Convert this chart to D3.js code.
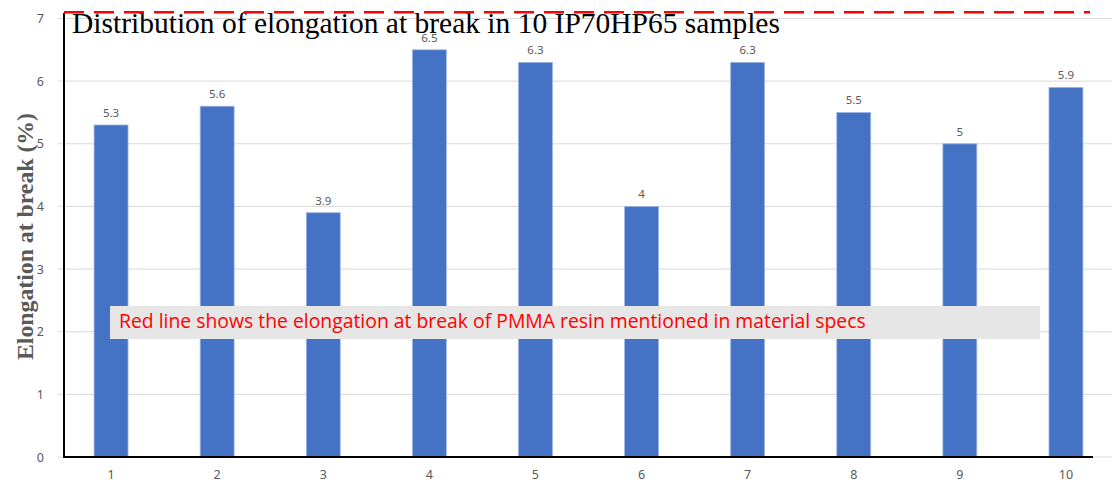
<!DOCTYPE html>
<html><head><meta charset="utf-8">
<script src="https://cdn.jsdelivr.net/npm/d3@7"></script>
<style>html,body{margin:0;padding:0;background:#fff;}svg{display:block;}</style>
</head><body>
<svg id="c" width="1112" height="482"></svg>
<script>
const categories = ["1","2","3","4","5","6","7","8","9","10"];
const values = [5.3, 5.6, 3.9, 6.5, 6.3, 4, 6.3, 5.5, 5, 5.9];
const yTicks = [0,1,2,3,4,5,6,7];
const specValue = 7.1;
const titleText = "Distribution of elongation at break in 10 IP70HP65 samples";
const yLabelText = "Elongation at break (%)";
const noteText = "Red line shows the elongation at break of PMMA resin mentioned in material specs";

const svg = d3.select("#c");
const x = d3.scaleBand().domain(categories).range([58, 1119]).paddingInner(0.68).paddingOuter(0.34);
const y = d3.scaleLinear().domain([0, 7]).range([457, 18.5]);
const axisX0 = 64, axisX1 = 1093, gridX1 = 1112;

// gridlines
svg.append("g").selectAll("line").data(yTicks).join("line")
  .attr("x1", 58).attr("x2", gridX1).attr("y1", d=>y(d)).attr("y2", d=>y(d))
  .attr("stroke", "#d9d9d9").attr("stroke-width", 1);

// y tick labels via axis
const yAxis = svg.append("g").attr("transform", `translate(${axisX0},0)`)
  .call(d3.axisLeft(y).tickValues(yTicks).tickSize(0).tickPadding(20).tickFormat(d3.format("d")));
yAxis.select(".domain").remove();
yAxis.selectAll("text").attr("fill", "#595959").attr("font-family", "'Noto Sans', sans-serif").attr("font-size", 12.5);

// x axis labels
const xAxis = svg.append("g").attr("transform", `translate(0,${y(0)})`)
  .call(d3.axisBottom(x).tickSize(0).tickPadding(13));
xAxis.select(".domain").remove();
xAxis.selectAll("text").attr("fill", "#595959").attr("font-family", "'Noto Sans', sans-serif").attr("font-size", 12.5);

// bars
svg.append("g").selectAll("rect").data(values).join("rect")
  .attr("x", (d,i)=>x(categories[i])).attr("width", x.bandwidth())
  .attr("y", d=>y(d)).attr("height", d=>y(0)-y(d))
  .attr("fill", "#4472c4").attr("stroke", "#9fb7e4").attr("stroke-width", 0.8);

// data labels
svg.append("g").selectAll("text").data(values).join("text")
  .attr("x", (d,i)=>x(categories[i]) + x.bandwidth()/2).attr("y", d=>y(d)-8)
  .attr("text-anchor", "middle").attr("fill", "#595959")
  .attr("font-family", "'Noto Sans', sans-serif").attr("font-size", 11.5)
  .text(d=>String(d));

// axis lines
svg.append("line").attr("x1", axisX0).attr("x2", axisX0).attr("y1", 13).attr("y2", y(0)+1)
  .attr("stroke", "#000").attr("stroke-width", 2);
svg.append("line").attr("x1", axisX0).attr("x2", axisX1).attr("y1", y(0)).attr("y2", y(0))
  .attr("stroke", "#000").attr("stroke-width", 2);

// title with white backing
svg.append("rect").attr("x", 70).attr("y", 20).attr("width", 712).attr("height", 14).attr("fill", "#fff");
const title = svg.append("text").attr("x", 72).attr("y", 33)
  .attr("font-family", "'Liberation Serif', 'Times New Roman', serif").attr("font-size", 27)
  .attr("fill", "#000").text(titleText);
let w = title.node().getComputedTextLength();
title.attr("font-size", 27 * 708 / w);

// red dashed spec line
svg.append("line").attr("x1", axisX0).attr("x2", 1090).attr("y1", y(specValue)).attr("y2", y(specValue))
  .attr("stroke", "#ff0000").attr("stroke-width", 2.5).attr("stroke-dasharray", "20,10");

// y label
const yl = svg.append("text").attr("transform", `translate(33,236.5) rotate(-90)`)
  .attr("text-anchor", "middle").attr("font-family", "'Liberation Serif', 'Times New Roman', serif")
  .attr("font-weight", "bold").attr("font-size", 22).attr("fill", "#595959").text(yLabelText);
w = yl.node().getComputedTextLength();
yl.attr("font-size", 22 * 247 / w);

// annotation box
svg.append("rect").attr("x", 110).attr("y", 306).attr("width", 930).attr("height", 33).attr("fill", "#e6e6e6");
const note = svg.append("text").attr("x", 119).attr("y", 328)
  .attr("font-family", "'Open Sans', sans-serif").attr("font-size", 16).attr("fill", "#ff0000").text(noteText);
w = note.node().getComputedTextLength();
note.attr("font-size", 16 * 747 / w);
</script>
</body></html>
